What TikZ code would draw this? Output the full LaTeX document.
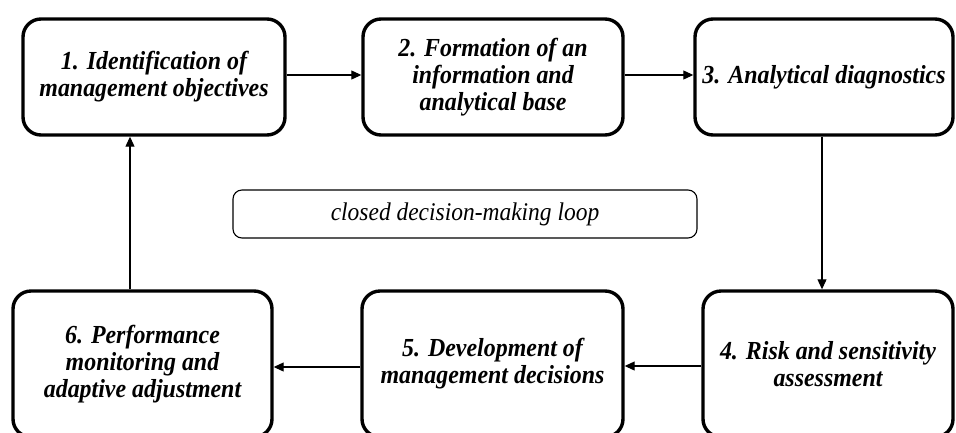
\documentclass[tikz,border=0pt]{standalone}
\usepackage{fontspec}
\setmainfont{Liberation Serif}[FakeStretch=0.92]
\usetikzlibrary{arrows.meta}

\tikzset{
  stage/.style={draw, line width=3.4pt, rounded corners=18pt, align=center,
    inner sep=0pt, font=\fontsize{26}{27}\selectfont\bfseries\itshape},
  loopnote/.style={draw, line width=1.1pt, rounded corners=9pt, align=center,
    inner sep=0pt, font=\fontsize{25.5}{28}\selectfont\itshape},
  flow/.style={line width=1.1pt, -{Triangle[length=10pt,width=9pt]}}
}

\begin{document}
\begin{tikzpicture}[x=1pt,y=-1pt]
  \useasboundingbox (0,0) rectangle (956,432);
  \clip (0,0) rectangle (956,432);

  % upper row
  \node[stage, minimum width=262pt, minimum height=116pt] (s1) at (154,77)
    {1. Identification of\\management objectives};
  \node[stage, minimum width=260pt, minimum height=116pt] (s2) at (493,77)
    {2. Formation of an\\information and\\analytical base};
  \node[stage, minimum width=258pt, minimum height=116pt] (s3) at (824,77)
    {3. Analytical diagnostics};

  % lower row
  \node[stage, minimum width=250pt, minimum height=146pt] (s4) at (828,364)
    {4. Risk and sensitivity\\assessment};
  \node[stage, minimum width=261pt, minimum height=146pt] (s5) at (492.5,364)
    {5. Development of\\management decisions};
  \node[stage, minimum width=259pt, minimum height=146pt] (s6) at (142.5,364)
    {6. Performance\\monitoring and\\adaptive adjustment};

  % centre caption
  \node[loopnote, minimum width=464pt, minimum height=48pt] (note) at (465,214)
    {closed decision-making loop};

  % cycle connectors
  \draw[flow] (s1.east |- 0,75) -- (s2.west |- 0,75);
  \draw[flow] (s2.east |- 0,75) -- (s3.west |- 0,75);
  \draw[flow] (s3.south -| 822,0) -- (s4.north -| 822,0);
  \draw[flow] (s4.west |- 0,366) -- (s5.east |- 0,366);
  \draw[flow] (s5.west |- 0,367) -- (s6.east |- 0,367);
  \draw[flow] (s6.north -| 130,0) -- (s1.south -| 130,0);
\end{tikzpicture}
\end{document}
